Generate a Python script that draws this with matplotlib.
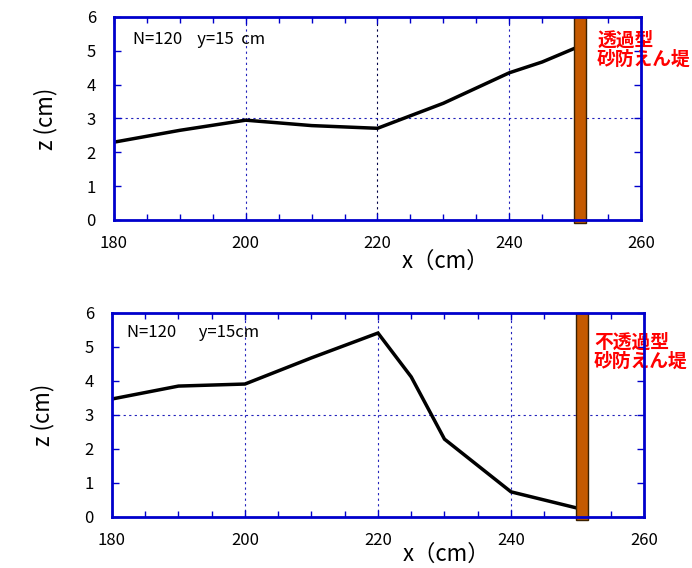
import matplotlib
matplotlib.use('Agg')
import matplotlib.pyplot as plt
from matplotlib.patches import Rectangle
from matplotlib.ticker import MultipleLocator

plt.rcParams['font.family'] = ['Noto Sans CJK JP', 'DejaVu Sans']

# top panel: permeable dam
top_x = [180, 190, 200, 210, 220, 230, 240, 245, 250]
top_z = [2.30, 2.65, 2.95, 2.79, 2.71, 3.45, 4.35, 4.67, 5.08]
top_note = 'N=120    y=15  cm'
top_dam = '透過型\n砂防えん堤'

# bottom panel: impermeable dam
bot_x = [180, 190, 200, 210, 220, 225, 230, 240, 250]
bot_z = [3.47, 3.85, 3.91, 4.68, 5.41, 4.12, 2.29, 0.74, 0.26]
bot_note = 'N=120      y=15cm'
bot_dam = '不透過型\n砂防えん堤'

dam_x0, dam_x1 = 249.8, 251.6
xticks = [180, 200, 220, 240, 260]
yticks = [0, 1, 2, 3, 4, 5, 6]

blue = '#0000CC'
wall = '#C55A00'

fig = plt.figure(figsize=(6.92, 5.68), dpi=100)
ax1 = fig.add_axes([0.1647, 0.6127, 0.7616, 0.3574])
ax2 = fig.add_axes([0.1618, 0.0898, 0.7688, 0.3592])

panels = [
    (ax1, top_x, top_z, top_note, top_dam, (0.036, 0.887), (597, 50), -0.205),
    (ax2, bot_x, bot_z, bot_note, bot_dam, (0.028, 0.902), (594, 352), -0.185),
]

for ax, xs, zs, note, dam, npos, dpos, xl_y in panels:
    ax.set_xlim(180, 260)
    ax.set_ylim(0, 6)
    # grid lines
    for gx in [200, 220, 240]:
        ax.axvline(gx, color='#2222BB' if gx != 220 or ax is ax2 else '#000044',
                   lw=0.8, ls=(0, (2, 3)), zorder=1)
    ax.axhline(3, color='#2222BB', lw=0.8, ls=(0, (2, 3)), zorder=1)

    ax.plot(xs, zs, color='black', lw=2.5, zorder=3, solid_joinstyle='miter')

    ax.add_patch(Rectangle((dam_x0, -0.08), dam_x1 - dam_x0, 6.08,
                           facecolor=wall, edgecolor='#3a2000', lw=1,
                           zorder=4, clip_on=False))

    for s in ax.spines.values():
        s.set_color(blue)
        s.set_linewidth(2)
        s.set_zorder(5)
    ax.set_xticks(xticks)
    ax.set_yticks(yticks)
    ax.xaxis.set_minor_locator(MultipleLocator(5))
    ax.tick_params(which='both', direction='in', top=True, right=True,
                   color=blue, labelsize=12)
    ax.tick_params(which='major', length=5, width=1)
    ax.tick_params(which='minor', length=4, width=1)
    ax.tick_params(axis='x', pad=11)
    ax.tick_params(axis='y', pad=13)

    ax.text(npos[0], npos[1], note, transform=ax.transAxes, fontsize=12,
            ha='left', va='center')
    ax.text(dpos[0] / 692, 1 - dpos[1] / 568, dam, transform=fig.transFigure,
            color='red', fontsize=13.5, fontweight='bold', ha='left',
            va='center', linespacing=1.0)

    ax.text(0.628, xl_y, 'x（cm）', transform=ax.transAxes, fontsize=16,
            ha='center', va='center')
    ax.text(-0.13, 0.5, 'z (cm)', transform=ax.transAxes, fontsize=16,
            ha='center', va='center', rotation=90)

fig.savefig('out.png', dpi=100)
